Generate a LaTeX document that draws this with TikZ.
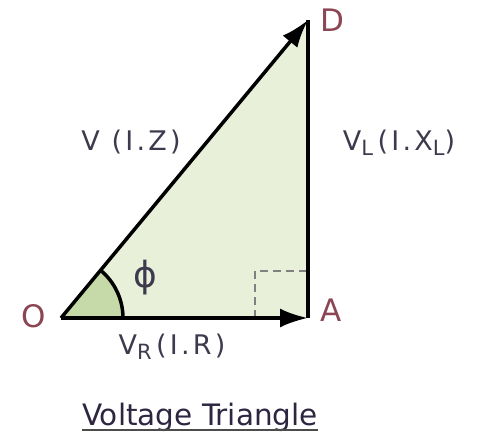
\documentclass[tikz,border=0pt]{standalone}
\usepackage{fontspec}
\setmainfont{DejaVu Sans}
\newfontfamily\labelfont[LetterSpace=12]{DejaVu Sans}
\usetikzlibrary{arrows.meta}
\definecolor{trifill}{HTML}{E9F0DA}
\definecolor{anglefill}{HTML}{C6D9A8}
\definecolor{pointred}{HTML}{8B4553}
\definecolor{lblgrey}{HTML}{3E3A4E}
\definecolor{titleink}{HTML}{2E2640}
\newcommand{\lowsub}[1]{\raisebox{-0.22em}{\fontsize{21}{21}\selectfont #1}}
\tikzset{
    phasor/.style={line width=3.5pt, -{Latex[length=28pt,width=19pt]}},
    pointlbl/.style={pointred, font=\fontsize{31}{31}\selectfont, inner sep=0pt},
    vlbl/.style={lblgrey, font=\labelfont\fontsize{27}{27}\selectfont, anchor=base, inner sep=0pt}
}
\begin{document}
\begin{tikzpicture}[x=1pt, y=1pt]
    \useasboundingbox (0,0) rectangle (479,432);
    \coordinate (O) at (61,114);
    \coordinate (A) at (308,114);
    \coordinate (D) at (308,412);
    \fill[trifill] (O) -- (A) -- (D) -- cycle;
    \fill[anglefill] (O) -- ++(0:62) arc[start angle=0, end angle=50.35, radius=62] -- cycle;
    \draw[line width=3.5pt] ([xshift=62pt]O) arc[start angle=0, end angle=50.35, radius=62];
    \draw[gray, line width=2pt, dash pattern=on 8pt off 5pt] ([xshift=-53pt]A) -- ++(0,47) -- ++(53,0);
    \draw[line width=3.5pt] (A) -- (D);
    \draw[phasor] (O) -- (A);
    \draw[phasor] (O) -- (D);
    \node[pointlbl] (lblO) at (34,116) {O};
    \node[pointlbl] (lblA) at (331,122) {A};
    \node[pointlbl] (lblD) at (332,412) {D};
    \node[lblgrey, font=\fontsize{36}{36}\selectfont] (phi) at (145,154) {ϕ};
    \node[vlbl] (vz) at (131,282) {V (I.Z)};
    \node[vlbl] (vl) at (399,282) {V\lowsub{L}\,(I.X\lowsub{L})};
    \node[vlbl] (vr) at (172,78) {V\lowsub{R}\,(I.R)};
    \node[titleink, font=\fontsize{29.5}{29.5}\selectfont, anchor=base, inner sep=0pt] (title) at (200,7) {Voltage Triangle};
    \draw[gray!60!black, line width=2pt] ([yshift=-5pt]title.base west) -- ([yshift=-5pt]title.base east);
\end{tikzpicture}
\end{document}
